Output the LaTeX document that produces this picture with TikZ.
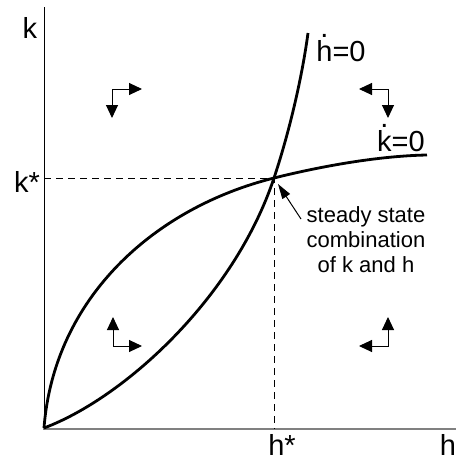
\documentclass[tikz,border=0pt]{standalone}
\usepackage{fontspec}
\setmainfont{Liberation Sans}
\usetikzlibrary{arrows.meta}
\newcommand{\overdot}[1]{\leavevmode\setbox0=\hbox{#1}\rlap{\hbox to \wd0{\hss\raisebox{0.82em}{.}\hss}}#1}
\tikzset{
  curveline/.style={line width=2.8pt},
  phasearrow/.style={line width=1pt, {Triangle[length=13pt,width=12pt]}-{Triangle[length=13pt,width=12pt]}},
  dashline/.style={line width=0.9pt, dash pattern=on 7pt off 5pt},
  axlabel/.style={inner sep=0pt, font=\fontsize{29}{32}\selectfont},
  notetext/.style={inner sep=0pt, align=center, font=\fontsize{22}{25}\selectfont}
}
\begin{document}
\begin{tikzpicture}[x=1pt,y=-1pt]
\useasboundingbox (0,0) rectangle (456,466);
\coordinate (O) at (44,428);
\coordinate (E) at (274,178);
\coordinate (ytop) at (44,7);
\coordinate (xend) at (456,429);
\coordinate (xstart) at (43,429);
\coordinate (kax) at (44,178);
\coordinate (hax) at (274,429);
\coordinate (kend) at (427,155);
\coordinate (hend) at (308,33);
% axes
\draw[line width=1pt] (ytop) -- (O);
\draw[line width=2pt, black!50] (xstart) -- (xend);
% dashed guides
\draw[dashline] (kax) -- (E) -- (hax);
% k-dot = 0 curve
\draw[curveline] (O) .. controls (54,298) and (154,208) .. (E)
  .. controls (314,168) and (374,156) .. (kend);
% h-dot = 0 curve
\draw[curveline] (O) .. controls (124,398) and (234,298) .. (E)
  .. controls (289,133) and (302,78) .. (hend);
% labels
\node[axlabel] (lk) at (30,28) {k};
\node[axlabel] (lkstar) at (27,182) {k*};
\node[axlabel] (lhstar) at (282,445) {h*};
\node[axlabel] (lh) at (448,445) {h};
\node[axlabel] (lhdot) at (341,48) {\overdot{h}=0};
\node[axlabel] (lkdot) at (401,138) {\overdot{k}=0};
% phase arrows
\coordinate (a1h) at (142,89); \coordinate (a1c) at (112,89); \coordinate (a1v) at (112,118);
\draw[phasearrow] (a1h) -- (a1c) -- (a1v);
\coordinate (a2h) at (359,89); \coordinate (a2c) at (388,89); \coordinate (a2v) at (388,118);
\draw[phasearrow] (a2h) -- (a2c) -- (a2v);
\coordinate (a3h) at (142,346); \coordinate (a3c) at (113,346); \coordinate (a3v) at (113,317);
\draw[phasearrow] (a3h) -- (a3c) -- (a3v);
\coordinate (a4h) at (359,346); \coordinate (a4c) at (388,346); \coordinate (a4v) at (388,317);
\draw[phasearrow] (a4h) -- (a4c) -- (a4v);
% note
\node[notetext] (note) at (366,240) {steady state\\combination\\of k and h};
\coordinate (ptail) at (301,219);
\coordinate (ptip) at (278,184);
\draw[line width=1pt, -{Triangle[length=15pt,width=9pt]}] (ptail) -- (ptip);
\end{tikzpicture}
\end{document}
